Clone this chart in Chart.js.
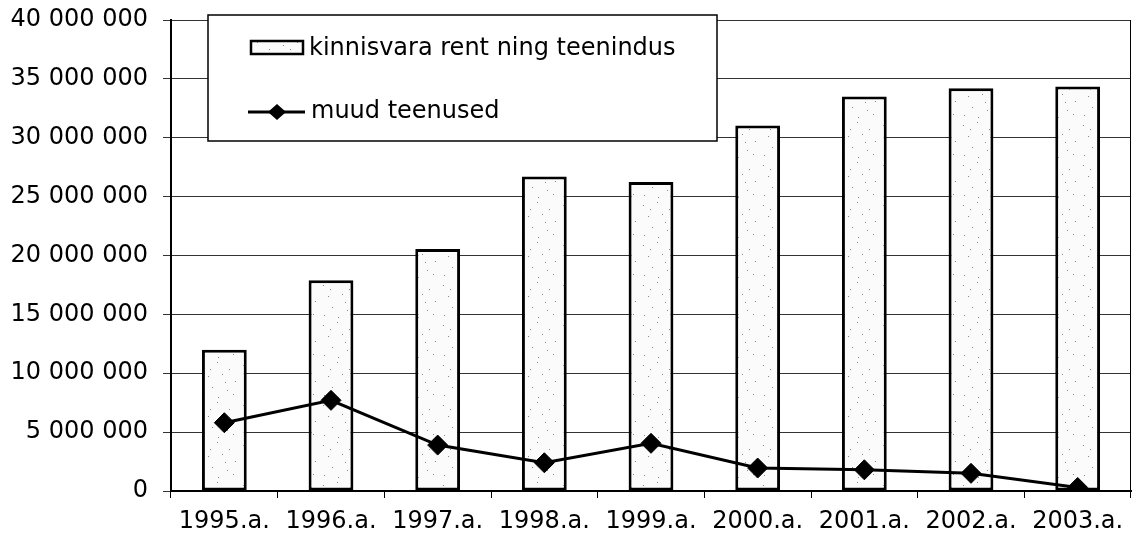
<!DOCTYPE html>
<html>
<head>
<meta charset="utf-8">
<script src="https://cdn.jsdelivr.net/npm/chart.js@4/dist/chart.umd.min.js"></script>
<style>
  body { margin: 0; background: #fff; }
  #wrap { width: 1133px; height: 544px; }
</style>
</head>
<body>
<div id="wrap"><canvas id="graafik"></canvas></div>
<script>
// Andmed
const aastad = ['1995.a.', '1996.a.', '1997.a.', '1998.a.', '1999.a.', '2000.a.', '2001.a.', '2002.a.', '2003.a.'];
const kinnisvara = [12000000, 17900000, 20550000, 26700000, 26250000, 31050000, 33500000, 34200000, 34350000];
const muudTeenused = [5800000, 7700000, 3900000, 2400000, 4050000, 1950000, 1800000, 1500000, 300000];
const yMax = 40000000;
const ySamm = 5000000;

const silt1 = 'kinnisvara rent ning teenindus';
const silt2 = 'muud teenused';
const font = 'DejaVu Sans';

// Täpiline täide tulpadele (kindlad punktid)
function teeMuster() {
  const c = document.createElement('canvas');
  c.width = 40; c.height = 40;
  const g = c.getContext('2d');
  g.fillStyle = '#fbfbfb';
  g.fillRect(0, 0, 40, 40);
  g.fillStyle = '#8a8a8a';
  const punktid = [[3,5],[17,2],[29,9],[8,16],[22,14],[35,21],[12,27],[27,30],[4,35],[18,37],[33,34],[25,22],[10,9]];
  punktid.forEach(([x, y]) => g.fillRect(x, y, 1, 1));
  return g.createPattern(c, 'repeat');
}
const muster = teeMuster();

function vorming(v) {
  return String(v).replace(/\B(?=(\d{3})+(?!\d))/g, ' ');
}

// Legend kastis + parem äär
const legendPlugin = {
  id: 'kastiLegend',
  afterDraw(chart) {
    const ctx = chart.ctx;
    const a = chart.chartArea;
    ctx.save();
    // parem äär
    ctx.strokeStyle = '#000';
    ctx.lineWidth = 1;
    ctx.beginPath();
    ctx.moveTo(a.right - 0.5, a.top);
    ctx.lineTo(a.right - 0.5, a.bottom);
    ctx.stroke();

    // kast
    ctx.fillStyle = '#fff';
    ctx.fillRect(208, 15, 509, 126);
    ctx.lineWidth = 1.5;
    ctx.strokeRect(208, 15, 509, 126);

    // tulba näidis
    ctx.fillStyle = muster;
    ctx.fillRect(251, 41, 52, 13);
    ctx.lineWidth = 2.5;
    ctx.strokeRect(251, 41, 52, 13);

    // joone näidis
    ctx.lineWidth = 3;
    ctx.beginPath();
    ctx.moveTo(248, 112);
    ctx.lineTo(305, 112);
    ctx.stroke();
    ctx.fillStyle = '#000';
    ctx.beginPath();
    ctx.moveTo(277, 104);
    ctx.lineTo(286, 112);
    ctx.lineTo(277, 120);
    ctx.lineTo(268, 112);
    ctx.closePath();
    ctx.fill();

    ctx.font = '24px "' + font + '"';
    ctx.textBaseline = 'middle';
    ctx.textAlign = 'left';
    ctx.fillText(silt1, 309, 49);
    ctx.fillText(silt2, 311, 112);
    ctx.restore();
  }
};

new Chart(document.getElementById('graafik'), {
  type: 'bar',
  data: {
    labels: aastad,
    datasets: [
      {
        type: 'line',
        label: silt2,
        data: muudTeenused,
        borderColor: '#000',
        backgroundColor: '#000',
        borderWidth: 3,
        pointStyle: 'rectRot',
        pointRadius: 10,
        pointBorderWidth: 1,
        tension: 0,
        order: 0
      },
      {
        label: silt1,
        data: kinnisvara,
        backgroundColor: muster,
        borderColor: '#000',
        borderWidth: 3,
        borderSkipped: false,
        barPercentage: 0.42,
        categoryPercentage: 1,
        order: 1
      }
    ]
  },
  options: {
    responsive: true,
    maintainAspectRatio: false,
    animation: false,
    layout: { autoPadding: false, padding: { top: 20, right: 2, left: 0, bottom: 0 } },
    plugins: {
      legend: { display: false },
      tooltip: { enabled: false }
    },
    scales: {
      x: {
        offset: true,
        grid: { drawOnChartArea: false, drawTicks: true, tickLength: 7, color: '#000' },
        border: { color: '#000', width: 2 },
        ticks: { color: '#000', padding: 9, maxRotation: 0, font: { family: font, size: 24 } },
        afterFit(scale) {
          scale.height = 53;
          scale.paddingLeft = 0;
          scale.paddingRight = 0;
        }
      },
      y: {
        min: 0,
        max: yMax,
        grid: { color: '#333', lineWidth: 1, tickLength: 8 },
        border: { color: '#000', width: 2 },
        ticks: {
          stepSize: ySamm,
          color: '#000',
          padding: 15,
          font: { family: font, size: 24 },
          callback: (v) => vorming(v)
        },
        afterFit(scale) {
          scale.width = 171;
          scale.paddingTop = 0;
          scale.paddingBottom = 0;
        }
      }
    }
  },
  plugins: [legendPlugin]
});
</script>
</body>
</html>
